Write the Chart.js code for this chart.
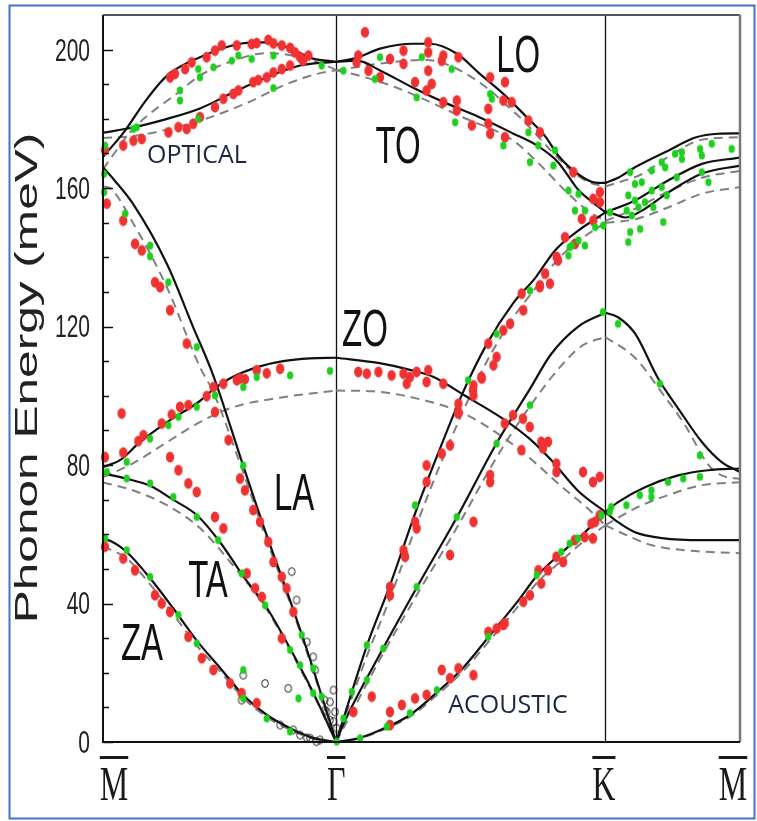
<!DOCTYPE html>
<html>
<head>
<meta charset="utf-8">
<title>Phonon dispersion</title>
<script src="https://cdn.jsdelivr.net/npm/chart.js@4.4.0/dist/chart.umd.min.js"></script>
<style>
  html, body { margin: 0; padding: 0; background: #fff; }
  canvas { display: block; }
</style>
</head>
<body>
<canvas id="chart" width="757" height="821"></canvas>
<script>
/* Graphene phonon dispersion along M-Gamma-K-M: two theory curves + measured points */

// path coordinates (units of |GK|)
const Q_M1 = 0, Q_G = 0.866, Q_K = 1.866, Q_M2 = 2.366;
const xTickPos    = [Q_M1, Q_G, Q_K, Q_M2];
const xTickLabels = ['M', 'Γ', 'K', 'M'];
const yTickLabels = [0, 40, 80, 120, 160, 200];
const Y_MAX = 210;

// solid theory bands [q, meV]
const zaSolid = [[0,58.5],[0.03,58],[0.089,54.8],[0.175,47.3],[0.260,38.7],[0.349,29.2],[0.435,21.4],[0.520,13.6],[0.609,7.8],[0.695,4],[0.780,1.2],[0.866,0],[0.955,1.2],[1.055,4.3],[1.140,7.8],[1.241,14.4],[1.337,21.4],[1.438,30.9],[1.538,40.4],[1.612,48],[1.705,54.8],[1.790,60.6],[1.866,66.4],[1.913,69.3],[2.013,73.6],[2.136,77],[2.247,78.5],[2.366,79]];
const zoSolid = [[0,79.4],[0.063,81.4],[0.137,86.6],[0.238,92.4],[0.360,98.5],[0.409,101.8],[0.483,105.5],[0.583,108.5],[0.669,110],[0.769,110.8],[0.866,111],[1.022,109.5],[1.140,107.5],[1.226,105.5],[1.345,100],[1.493,93],[1.586,87.5],[1.664,81.5],[1.765,72.5],[1.866,66.4],[1.913,63.5],[1.976,60.6],[2.077,58.9],[2.225,58.3],[2.366,58.3]];
const taSolid = [[0,77.6],[0.089,76],[0.175,74],[0.260,70],[0.349,65.5],[0.435,57.7],[0.520,48],[0.609,38.7],[0.695,27],[0.780,14.4],[0.866,0],[0.892,5],[1.040,27],[1.166,44.7],[1.315,65],[1.464,86.6],[1.586,102],[1.664,112],[1.765,120],[1.866,124],[1.913,122.7],[1.976,118],[2.062,105],[2.136,96.4],[2.225,86.6],[2.299,80.8],[2.366,78]];
const laSolid = [[0,166],[0.04,162.5],[0.111,155.5],[0.238,138],[0.334,120],[0.409,106],[0.520,80],[0.609,59.5],[0.684,43.3],[0.758,26.5],[0.832,8.5],[0.866,0],[0.981,28],[1.066,45.3],[1.166,67.5],[1.252,84.8],[1.337,101],[1.426,115],[1.523,126.7],[1.605,134],[1.679,142],[1.753,147],[1.866,153],[1.976,156.4],[2.099,162.2],[2.225,167],[2.366,168.8]];
const loSolid = [[0,169],[0.082,176.6],[0.156,185],[0.238,192.5],[0.360,197.8],[0.509,201.7],[0.594,202.1],[0.684,200.7],[0.780,197.4],[0.866,196.5],[0.944,197.7],[1.029,200.3],[1.152,201.7],[1.215,201.7],[1.315,198.8],[1.400,193],[1.486,187.3],[1.575,180.4],[1.642,175],[1.690,169.5],[1.765,164],[1.828,161.6],[1.866,161.5],[1.913,163],[1.976,166],[2.099,170.8],[2.200,174.6],[2.285,175.7],[2.366,175.8]];
const toSolid = [[0,176],[0.111,177.5],[0.238,180],[0.360,183],[0.483,187.6],[0.609,192],[0.732,195.4],[0.866,196.5],[0.944,196.8],[1.029,194],[1.152,189],[1.278,184.4],[1.400,180.4],[1.523,175.8],[1.612,172.3],[1.690,167.5],[1.765,159.5],[1.817,156],[1.866,153],[1.891,152.7],[1.939,151.5],[2.002,153.5],[2.099,158.7],[2.225,164.2],[2.366,166.5]];

// dashed theory bands
const zaDash = [[0,56.5],[0.089,53],[0.175,45.5],[0.260,37],[0.349,27.8],[0.435,20.4],[0.520,12.8],[0.609,7.2],[0.695,3.5],[0.780,1],[0.866,0],[0.955,1.1],[1.055,4],[1.140,7.3],[1.241,13.6],[1.337,20.4],[1.438,29.5],[1.538,38.8],[1.612,46],[1.705,52.5],[1.790,58.3],[1.866,62.6],[1.976,67.5],[2.099,71.3],[2.225,74.2],[2.366,75]];
const zoDash = [[0,76.5],[0.111,80.5],[0.238,86.6],[0.360,92.4],[0.483,96.7],[0.669,99.6],[0.866,101.5],[1.0,101.3],[1.15,99.5],[1.337,95],[1.504,87],[1.60,81],[1.70,74],[1.80,67.5],[1.866,62.6],[1.946,59.7],[2.035,56.9],[2.158,55.4],[2.366,54.5]];
const taDash = [[0,75],[0.111,72.7],[0.238,68.4],[0.360,61.8],[0.483,51],[0.609,38.2],[0.695,26.5],[0.780,14],[0.866,0],[1.040,25.5],[1.166,42.5],[1.315,62],[1.464,82.5],[1.586,97],[1.70,108.5],[1.78,114.5],[1.866,117],[1.976,111],[2.075,101],[2.162,91.5],[2.249,80],[2.298,77],[2.366,76]];
const laDash = [[0,160.5],[0.026,160],[0.113,149.7],[0.237,131.4],[0.360,108.3],[0.41,101],[0.520,78],[0.609,58],[0.684,42.5],[0.758,25.8],[0.832,8.2],[0.866,0],[0.981,25],[1.066,41.5],[1.166,63],[1.252,80],[1.337,95.5],[1.426,110],[1.523,122.5],[1.605,131],[1.679,138.5],[1.753,144],[1.866,150],[1.976,151],[2.099,154.4],[2.225,158.4],[2.366,160.3]];
const loDash = [[0,165.5],[0.111,177],[0.286,188],[0.360,192.5],[0.483,196.8],[0.609,199],[0.732,197.8],[0.855,194.5],[0.866,194],[1.029,196],[1.2,197],[1.30,195],[1.425,189],[1.512,183],[1.561,179.5],[1.65,172],[1.74,165],[1.81,161.5],[1.866,160.5],[1.90,161.3],[2.0,164],[2.099,169],[2.225,174],[2.366,174.7]];
const toDash = [[0,174.5],[0.111,175],[0.360,179.5],[0.546,185],[0.669,189.6],[0.795,193],[0.866,194],[0.95,192.5],[1.091,189],[1.338,180.4],[1.524,173.7],[1.62,167],[1.72,159],[1.80,153.5],[1.866,150.5],[1.976,154],[2.099,159],[2.225,163],[2.366,165]];

// measured points
const redPts = [
  [0.249,192.0],[0.267,193.0],[0.305,194.4],[0.329,196.3],[0.385,197.8],[0.416,199.7],[0.441,201.2],[0.497,201.2],[0.552,201.6],[0.571,201.9],[0.614,202.8],[0.633,201.8],[0.664,201.2],[0.695,200.5],[0.713,199.2],[0.732,197.8],[0.763,198.3],[0.743,196.8],
  [0.243,176.1],[0.280,177.6],[0.311,177.1],[0.335,178.6],[0.360,180.5],[0.416,183.4],[0.447,185.8],[0.484,187.2],[0.503,188.2],[0.558,190.6],[0.577,191.2],[0.608,192.0],[0.633,193.4],[0.664,194.4],[0.695,195.4],[0.075,172.3],[0.113,173.7],[0.144,174.2],[0.007,171.0],
  [0.014,155.5],[0.075,150.6],[0.119,143.9],[0.144,142.0],[0.193,132.8],[0.212,131.4],[0.249,124.7],[0.311,115.1],[0.410,102.5],
  [0.416,95.3],[0.466,87.2],[0.509,76.1],[0.527,72.7],[0.558,67.0],[0.583,63.6],[0.614,57.8],[0.633,52.0],[0.664,47.7],[0.682,44.4],[0.707,37.6],
  [0.007,82.3],[0.075,83.6],[0.131,86.9],[0.150,88.6],[0.218,92.0],[0.255,94.6],[0.286,96.8],[0.317,97.3],[0.385,99.9],[0.447,103.5],[0.497,104.5],[0.527,104.8],[0.069,94.9],[0.571,107.4],[0.608,106.5],[0.658,107.8],[0.509,105.0],
  [0.249,82.3],[0.280,78.5],[0.317,74.7],[0.348,72.2],[0.416,65.0],[0.447,61.7],
  [0.534,48.7],[0.565,44.4],[0.590,41.9],[0.664,29.9],
  [0.007,56.4],[0.075,53.0],[0.119,49.6],[0.193,42.4],[0.218,40.0],[0.249,37.6],[0.317,30.4],[0.367,24.2],[0.410,20.8],[0.472,16.9],[0.515,14.1],[0.571,11.2],
  [0.973,205.0],[0.948,198.3],[0.942,196.3],[0.986,193.9],[1.029,192.0],[1.066,197.3],[1.116,199.7],[1.116,195.9],[1.159,190.6],[1.202,188.2],[1.208,202.1],[1.208,199.2],[1.208,193.9],[1.221,190.1],[1.264,198.3],[1.264,184.8],[1.314,185.3],[1.320,197.8],[1.314,182.4],[1.370,178.1],[1.431,182.9],[1.438,192.0],[1.431,178.6],[1.438,175.7],[1.493,190.6],[1.487,185.3],[1.518,184.8],[1.493,174.7],[1.580,179.5],[1.258,196.8],
  [1.623,176.1],[1.747,164.6],[1.821,156.9],[1.846,158.8],[1.846,155.9],[1.778,151.1],[1.821,150.6],[1.716,145.8],[1.685,140.1],[1.642,135.3],[1.623,131.9],[1.660,132.4],[1.753,143.9],[1.690,139.1],
  [1.555,129.5],[1.561,124.7],[1.512,120.8],[1.487,118.9],[1.431,115.1],[1.462,111.2],[1.450,108.8],[1.622,131.4],[1.405,105.4],[1.374,101.6],[1.320,97.7],[1.320,95.3],[1.289,85.7],[1.258,83.3],[1.202,79.9],[1.202,75.1],[1.159,63.6],[1.165,61.7],[1.116,55.4],[1.122,53.5],[1.066,44.8],[1.066,42.4],[0.998,13.1],[0.930,8.7],
  [1.376,63.6],[1.289,54.0],[1.438,77.1],[1.438,75.1],[1.376,103.0],[1.376,100.1],
  [0.948,106.9],[0.980,106.4],[1.023,106.9],[1.072,105.9],[1.116,106.4],[1.165,106.9],[1.208,107.4],[1.140,105.4],[1.128,103.5],[1.202,104.0],[1.264,103.5],[1.407,105.0],[1.319,94.9],[1.492,92.0],[1.523,94.4],[1.560,93.4],[1.585,91.0],[1.628,86.7],[1.653,86.7],[1.634,84.8],[1.554,84.3],[1.684,80.4],[1.684,78.0],[1.783,78.0],[1.820,75.1],[1.845,76.6],
  [1.258,20.8],[1.289,18.4],[1.320,21.3],[1.376,19.3],[1.202,13.6],[1.159,12.6],[1.110,10.7],[1.066,8.7],[1.066,4.9],[1.431,31.8],[1.462,32.8],[1.487,33.8],[1.561,40.5],[1.586,42.4],[1.617,49.6],[1.492,34.3],[1.628,45.8],[1.653,49.6],[1.684,53.5],[1.709,52.0],[1.752,58.3],[1.789,59.2],[1.814,63.1],[1.820,58.8],[1.845,65.5],[1.828,63.6]
];
const greenPts = [
  [0.354,194.4],[0.360,192.0],[0.286,188.2],[0.286,185.3],[0.410,194.9],[0.478,196.8],[0.503,198.3],[0.552,197.3],[0.633,198.3],[0.633,188.9],[0.812,195.4],[0.125,177.6],[0.113,177.1],[0.007,172.3],[0.004,164.1],[0.354,180.0],
  [0.082,152.6],[0.175,143.4],[0.175,140.3],[0.243,132.8],[0.348,114.1],[0.004,158.8],
  [0.014,78.0],[0.088,80.9],[0.175,87.6],[0.243,91.5],[0.280,93.9],[0.348,96.8],[0.416,100.1],[0.521,102.5],[0.695,105.9],[0.843,107.2],[0.571,105.4],
  [0.088,76.1],[0.175,74.7],[0.261,70.8],[0.348,65.0],[0.428,58.3],[0.515,48.7],[0.602,39.5],[0.695,26.6],[0.732,22.2],[0.726,12.6],[0.781,14.1],[0.812,13.1],
  [0.521,79.9],[0.738,30.9],[0.781,21.3],
  [0.007,58.8],[0.088,55.4],[0.175,47.7],[0.280,36.7],[0.348,28.5],[0.521,12.6],[0.608,6.8],[0.695,3.0],[0.521,20.8],[0.868,0.1],
  [0.893,193.9],[1.029,197.8],[1.010,191.5],[1.165,186.2],[1.184,197.8],[1.295,194.4],[1.308,179.0],[1.438,187.2],[1.444,185.8],[1.487,172.3],[1.580,176.1],[1.586,167.5],[1.617,172.3],[1.679,170.9],[1.673,166.5],[1.729,159.3],[1.766,158.3],[1.753,153.5],[1.790,153.5],[1.828,148.7],[1.858,149.2],[1.741,143.4],[1.766,144.9],[1.790,143.4],[1.729,140.5],[1.883,153.0],
  [1.958,164.6],[1.976,161.2],[2.001,161.7],[1.951,157.9],[1.976,156.4],[1.945,153.5],[1.989,154.5],[1.964,152.1],[2.038,165.1],[2.075,167.5],[2.088,166.0],[2.125,169.9],[2.150,170.4],[2.150,168.4],[2.218,171.3],[2.224,169.4],[2.261,172.8],[2.335,171.3],[2.038,159.3],[2.075,160.3],[2.094,157.9],[2.131,163.1],[2.224,164.6],[2.249,161.7],[2.013,155.9],[1.995,148.2],[1.958,147.3],[1.951,144.4],[2.081,150.2],[2.044,154.5],
  [1.586,130.4],[1.462,117.9],[1.733,142.9],[1.356,104.5],[1.159,68.4],[0.980,28.0],[0.924,14.5],[0.893,6.8],
  [1.462,86.2],[1.314,65.0],[1.165,44.8],[1.041,27.0],[0.980,17.9],[1.586,97.3],
  [0.955,1.1],[1.054,4.4],[1.140,8.3],[1.240,15.0],[1.431,30.4],[1.611,48.2],[1.702,54.9],[1.733,57.3],[1.764,58.8],[1.851,65.5],[1.888,67.9],[1.944,68.4],[1.994,71.3],[2.037,72.7],[2.037,70.8],[2.099,75.1],[2.155,76.1],[2.217,76.6],[1.882,66.5],
  [1.913,120.8],[2.068,103.5],[1.857,124.2],[2.217,82.8]
];
const openPts = [
  [0.701,49.2],[0.719,41.0],[0.757,28.9],[0.781,24.6],[0.788,20.8],[0.521,19.3],[0.602,16.9],[0.688,15.5],[0.515,12.1],[0.658,4.9],[0.707,3.5],[0.732,2.0],[0.769,1.1],[0.806,0.6],[0.843,11.6],[0.856,15.0],[0.831,8.7],[0.856,5.9],[0.868,4.0],[0.862,8.7],[0.823,12.1],[0.757,1.2],[0.793,0.1],[0.843,6.3],[0.825,9.2]
];

// in-plot labels [text, q, meV]
const bandLabels = [['LO',1.542,198.8],['TO',1.096,172.6],['ZO',0.973,119.6],['LA',0.710,72.4],['TA',0.390,47.3],['ZA',0.145,29.1]];
const regionLabels = [['OPTICAL',0.349,169.7],['ACOUSTIC',1.504,11.0]];

function splitBand(band) {
  const out = [[], [], []];
  band.forEach(([q, e]) => {
    if (q <= Q_G) out[0].push({ x: q, y: e });
    if (q >= Q_G && q <= Q_K) out[1].push({ x: q, y: e });
    if (q >= Q_K) out[2].push({ x: q, y: e });
  });
  return out;
}

function dotStyle(rx, ry, fill, stroke) {
  const c = document.createElement('canvas');
  const w = Math.ceil(rx * 2 + 3), h = Math.ceil(ry * 2 + 3);
  c.width = w; c.height = h;
  const g = c.getContext('2d');
  g.beginPath();
  g.ellipse(w / 2, h / 2, rx, ry, 0, 0, Math.PI * 2);
  if (fill) { g.fillStyle = fill; g.fill(); }
  if (stroke) { g.strokeStyle = stroke; g.lineWidth = 1; g.stroke(); }
  return c;
}

const toXY = arr => arr.map(([q, e]) => ({ x: q, y: e }));

const datasets = [];
[zaSolid, zoSolid, taSolid, laSolid, loSolid, toSolid].forEach(b => {
  splitBand(b).forEach(seg => datasets.push({
    type: 'line', data: seg, borderColor: '#111', borderWidth: 2.2,
    pointRadius: 0, fill: false, cubicInterpolationMode: 'monotone', order: 3,
  }));
});
[zaDash, zoDash, taDash, laDash, loDash, toDash].forEach(b => {
  splitBand(b).forEach(seg => datasets.push({
    type: 'line', data: seg, borderColor: '#808080', borderWidth: 2, borderDash: [9, 6],
    pointRadius: 0, fill: false, cubicInterpolationMode: 'monotone', order: 4,
  }));
});
datasets.push({ type: 'scatter', data: toXY(openPts), pointStyle: dotStyle(3.3, 3.9, null, '#222'), pointRadius: 4, order: 2, clip: 8 });
datasets.push({ type: 'scatter', data: toXY(redPts), pointStyle: dotStyle(4.2, 5.4, '#f03232', null), pointRadius: 4, order: 1, clip: 8 });
datasets.push({ type: 'scatter', data: toXY(greenPts), pointStyle: dotStyle(3.1, 3.9, '#1fcf1f', null), pointRadius: 4, order: 0, clip: 8 });

function stretchText(ctx, txt, x, y, font, sy, color, align, capRatio) {
  ctx.save();
  ctx.translate(x, y);
  ctx.scale(1, sy);
  ctx.font = font;
  ctx.fillStyle = color;
  ctx.textAlign = align;
  ctx.textBaseline = 'alphabetic';
  ctx.fillText(txt, 0, capRatio);
  ctx.restore();
}

const decor = {
  id: 'decor',
  beforeDatasetsDraw(chart) {
    const { ctx, chartArea: a, scales: { x } } = chart;
    ctx.save();
    ctx.strokeStyle = '#111';
    ctx.lineWidth = 1.3;
    [Q_G, Q_K].forEach(q => {
      const px = Math.round(x.getPixelForValue(q)) + 0.5;
      ctx.beginPath(); ctx.moveTo(px, a.top); ctx.lineTo(px, a.bottom); ctx.stroke();
    });
    ctx.restore();
  },
  afterDatasetsDraw(chart) {
    const { ctx, chartArea: a, scales: { x, y } } = chart;
    ctx.save();

    // frame
    ctx.lineWidth = 2;
    ctx.strokeStyle = '#555';
    ctx.beginPath(); ctx.moveTo(a.left, a.top); ctx.lineTo(a.right, a.top); ctx.stroke();
    ctx.strokeStyle = '#777'; ctx.lineWidth = 2.5;
    ctx.beginPath(); ctx.moveTo(a.right, a.top); ctx.lineTo(a.right, a.bottom); ctx.stroke();
    ctx.strokeStyle = '#111'; ctx.lineWidth = 2;
    ctx.beginPath(); ctx.moveTo(a.left, a.top); ctx.lineTo(a.left, a.bottom); ctx.lineTo(a.right, a.bottom); ctx.stroke();

    // y ticks, inward
    ctx.lineWidth = 1.5;
    for (let v = 0; v <= 200; v += 10) {
      const py = Math.round(y.getPixelForValue(v)) + 0.5;
      const len = v % 40 === 0 ? 10 : 6;
      ctx.beginPath(); ctx.moveTo(a.left, py); ctx.lineTo(a.left + len, py); ctx.stroke();
    }
    yTickLabels.forEach(v => {
      stretchText(ctx, String(v), a.left - 13, y.getPixelForValue(v), '21px "Liberation Sans", Arial, sans-serif',
        1.45, '#222', 'right', 0.358 * 21);
    });

    // axis title
    ctx.save();
    ctx.translate(37, 378);
    ctx.rotate(-Math.PI / 2);
    ctx.scale(1.55, 1);
    ctx.font = '32px "Liberation Sans", Arial, sans-serif';
    ctx.fillStyle = '#222';
    ctx.textAlign = 'center';
    ctx.textBaseline = 'alphabetic';
    ctx.fillText('Phonon Energy (meV)', 0, 0);
    ctx.restore();

    // x labels with overbars
    const nudge = [11, 0, -1.5, -7];
    ctx.font = '32px "Liberation Serif", "Times New Roman", serif';
    xTickPos.forEach((q, i) => {
      const cx = x.getPixelForValue(q) + nudge[i];
      const w = ctx.measureText(xTickLabels[i]).width;
      ctx.fillStyle = '#1a1a1a';
      ctx.fillRect(cx - w / 2, a.bottom + 14, w, 3);
      stretchText(ctx, xTickLabels[i], cx, a.bottom + 58, '32px "Liberation Serif", "Times New Roman", serif',
        1.5, '#1a1a1a', 'center', 0);
    });

    // band labels
    bandLabels.forEach(([t, q, e]) => {
      stretchText(ctx, t, x.getPixelForValue(q), y.getPixelForValue(e), '33px "Liberation Sans", Arial, sans-serif',
        1.55, '#111', 'center', 0.358 * 33);
    });
    regionLabels.forEach(([t, q, e]) => {
      stretchText(ctx, t, x.getPixelForValue(q), y.getPixelForValue(e), '25px "Open Sans", sans-serif',
        1, '#1b2542', 'center', 0.357 * 25);
    });

    // outer blue border
    ctx.strokeStyle = '#4472c4';
    ctx.lineWidth = 2;
    ctx.strokeRect(9.5, 5.5, 745, 813);
    ctx.restore();
  },
};

new Chart(document.getElementById('chart'), {
  type: 'scatter',
  data: { datasets },
  options: {
    responsive: false,
    animation: false,
    layout: { padding: { left: 103, right: 17, top: 15, bottom: 79 } },
    plugins: { legend: { display: false }, tooltip: { enabled: false } },
    scales: {
      x: { type: 'linear', min: Q_M1, max: Q_M2, display: false },
      y: { type: 'linear', min: 0, max: Y_MAX, display: false },
    },
  },
  plugins: [decor],
});
</script>
</body>
</html>
